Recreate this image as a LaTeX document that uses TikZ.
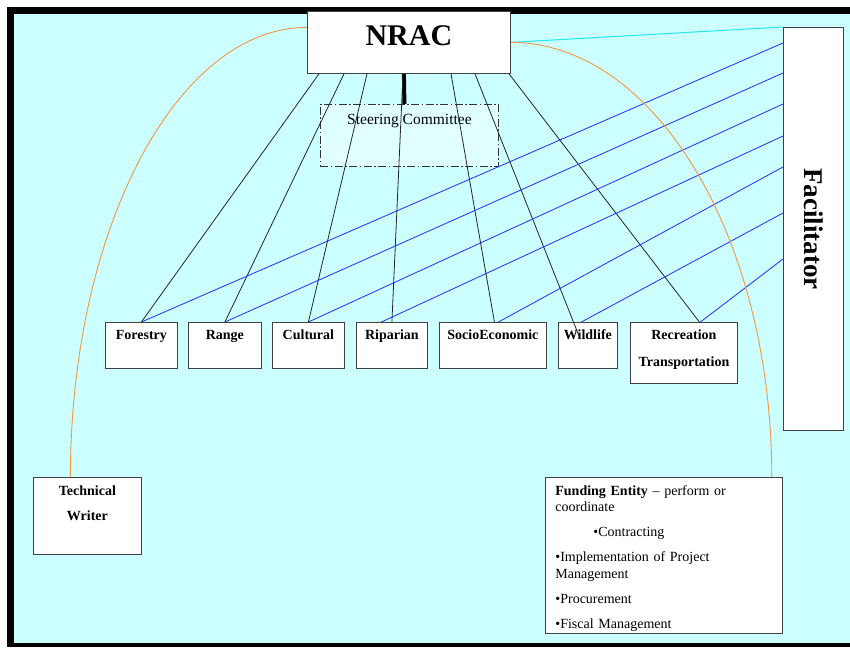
\documentclass[tikz,border=0pt]{standalone}
\usepackage{fontspec}
\setmainfont{Liberation Serif}
\usepackage{graphicx}
\definecolor{bgCyan}{RGB}{204,255,255}
\definecolor{steerCyan}{RGB}{224,255,255}
\definecolor{linkBlue}{RGB}{40,40,255}
\definecolor{arcOrange}{RGB}{245,150,70}
\definecolor{lineCyan}{RGB}{30,232,240}

\tikzset{
  plainbox/.style={draw=black!75, fill=white, line width=0.8pt, anchor=north west, inner sep=0pt},
  unit/.style={plainbox, align=center, font=\fontsize{14}{16}\selectfont\bfseries, text height=17pt},
  tie/.style={black!85, line width=0.8pt},
  feed/.style={linkBlue, line width=0.8pt},
  orangeline/.style={arcOrange, line width=0.9pt}
}

\begin{document}
\begin{tikzpicture}[x=1pt, y=-1pt]
\useasboundingbox (0,0) rectangle (850,647);
\fill[white] (0,0) rectangle (850,647);
\fill[black] (7,7) rectangle (850,647);
\fill[bgCyan] (14,14) rectangle (850,643);

% council and committee
\node[plainbox, minimum width=203pt, minimum height=62pt, font=\fontsize{30}{36}\selectfont\bfseries,
  text height=34pt, text depth=28pt] (nrac) at (307,11) {NRAC};
\node[plainbox, draw=black!80, fill=steerCyan, dash pattern=on 8pt off 2.5pt on 1.5pt off 2.5pt,
  minimum width=178pt, minimum height=62pt, font=\fontsize{15.5}{18}\selectfont,
  text height=20pt, text depth=42pt] (steer) at (320,104) {Steering Committee};

% working groups
\node[unit, minimum width=72pt, minimum height=46pt, text depth=29pt] (forestry) at (105,322) {Forestry};
\node[unit, minimum width=73pt, minimum height=46pt, text depth=29pt] (range) at (188,322) {Range};
\node[unit, minimum width=72pt, minimum height=46pt, text depth=29pt] (cultural) at (272,322) {Cultural};
\node[unit, minimum width=71pt, minimum height=46pt, text depth=29pt] (riparian) at (356,322) {Riparian};
\node[unit, minimum width=107pt, minimum height=46pt, text depth=29pt] (socio) at (439,322) {SocioEconomic};
\node[unit, minimum width=59pt, minimum height=46pt, text depth=29pt] (wildlife) at (558,322) {Wildlife};
\node[unit, minimum width=107pt, minimum height=61pt, text height=44pt, text depth=17pt] (recreation) at (630,322)
  {Recreation\\[11pt]Transportation};

% side boxes
\node[plainbox, minimum width=60pt, minimum height=403pt,
  font=\fontsize{27}{32}\selectfont\bfseries] (facil) at (783,27) {\rotatebox{-90}{Facilitator}};
\node[unit, minimum width=108pt, minimum height=77pt, text height=43pt, text depth=34pt] (writer) at (33,477)
  {Technical\\[9pt]Writer};
\node[plainbox, minimum width=237pt, minimum height=156pt, text width=217pt, inner xsep=10pt,
  align=left, font=\fontsize{14}{16.5}\selectfont, text height=18pt, text depth=138pt] (funding) at (545,477)
  {\textbf{Funding Entity} -- perform or\\coordinate\\[8.5pt]
   \hspace*{38pt}\textbullet Contracting\\[8.5pt]
   \textbullet Implementation of Project\\Management\\[8.5pt]
   \textbullet Procurement\\[8.5pt]
   \textbullet Fiscal Management};

% links from the council
\draw[line width=4pt] ([xshift=-5pt]nrac.south) -- ([xshift=-5pt]steer.north);
\foreach \grp/\sx/\ex in {forestry/12/0, range/37/0, cultural/60/0, riparian/96/0, socio/144/1.5, recreation/202/15.5}
  \draw[tie] ([xshift=\sx pt]nrac.south west) -- ([xshift=\ex pt]\grp.north);
\draw[tie] ([xshift=168pt]nrac.south west) -- ([xshift=-8.5pt, yshift=-15pt]wildlife.north);

% links from the facilitator
\foreach \grp/\dy/\ex in {forestry/16/0, range/46/0, cultural/77/0, riparian/109/-10.5,
    socio/140/5.5, wildlife/186/-6.5, recreation/232/16.5}
  \draw[feed] ([yshift=-\dy pt]facil.north west) -- ([xshift=\ex pt]\grp.north);
\draw[lineCyan, line width=1pt] (nrac.east) -- (facil.north west);

% arcs to writer and funding
\draw[orangeline] ([yshift=15pt]nrac.west) .. controls +(-130,0) and +(0,-248) .. ([xshift=-17pt]writer.north);
\draw[orangeline] (nrac.east) .. controls +(144,0) and +(0,-240) .. ([xshift=-11pt]funding.north east);
\end{tikzpicture}
\end{document}
